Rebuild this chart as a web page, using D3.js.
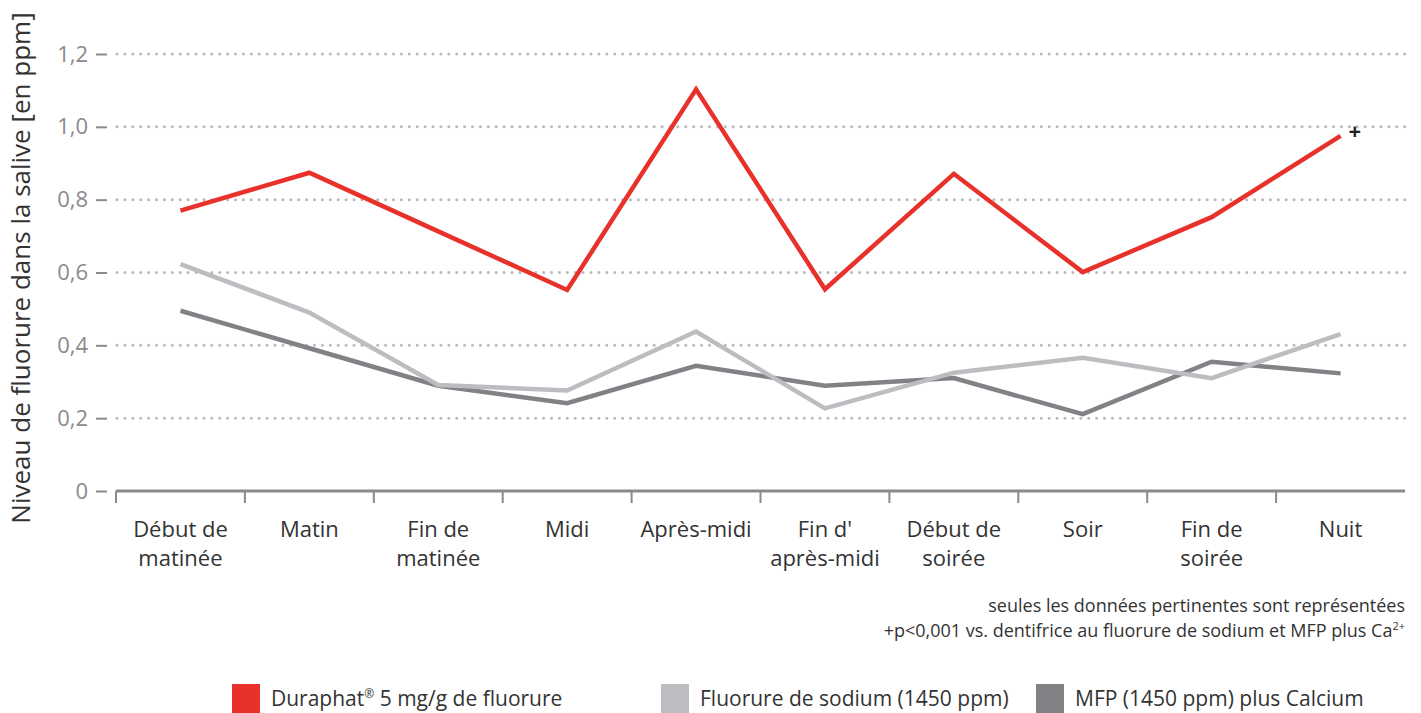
<!DOCTYPE html>
<html>
<head>
<meta charset="utf-8">
<script src="https://cdn.jsdelivr.net/npm/d3@7"></script>
<style>
  body { margin: 0; background: #fff; }
  svg { display: block; font-family: "Open Sans", sans-serif; }
</style>
</head>
<body>
<svg id="chart" width="1421" height="713"></svg>
<script>
var categories = [
  ["Début de", "matinée"], ["Matin"], ["Fin de", "matinée"], ["Midi"], ["Après-midi"],
  ["Fin d'", "après-midi"], ["Début de", "soirée"], ["Soir"], ["Fin de", "soirée"], ["Nuit"]
];
var duraphat = [0.770, 0.874, 0.713, 0.552, 1.103, 0.554, 0.871, 0.601, 0.752, 0.975];
var sodium   = [0.623, 0.490, 0.291, 0.276, 0.438, 0.227, 0.325, 0.366, 0.310, 0.431];
var mfp      = [0.495, 0.392, 0.289, 0.241, 0.344, 0.289, 0.310, 0.211, 0.355, 0.323];
var yTicks = [0, 0.2, 0.4, 0.6, 0.8, 1.0, 1.2];
var seriesNames = ["Duraphat", "Fluorure de sodium (1450 ppm)", "MFP (1450 ppm) plus Calcium"];
var colors = ["#e8312a", "#bdbdc1", "#818186"];

var svg = d3.select("#chart"),
    margin = {top: 54, left: 116, right: 16, bottom: 222},
    width = 1421 - margin.left - margin.right,
    height = 713 - margin.top - margin.bottom;

var keys = categories.map(function(c) { return c.join(" "); });

var x = d3.scaleBand().domain(keys).range([0, width]);
var y = d3.scaleLinear().domain([0, 1.2]).range([height, 0]);

var g = svg.append("g").attr("transform", "translate(" + margin.left + "," + margin.top + ")");

// dotted grid
g.selectAll("line.grid")
  .data(yTicks.filter(function(d) { return d > 0; }))
  .enter().append("line")
  .attr("class", "grid")
  .attr("x1", 1).attr("x2", width)
  .attr("y1", function(d) { return y(d); })
  .attr("y2", function(d) { return y(d); })
  .style("stroke", "#b9b9bc")
  .style("stroke-width", 3)
  .style("stroke-linecap", "round")
  .style("stroke-dasharray", "0,7.9");

// y axis
var yAxis = g.append("g")
  .attr("transform", "translate(-9,0)")
  .call(d3.axisLeft(y).tickValues(yTicks).tickSize(11).tickPadding(8)
    .tickFormat(function(d) { return d === 0 ? "0" : d3.format(".1f")(d).replace(".", ","); }));
yAxis.select(".domain").remove();
yAxis.selectAll(".tick line").style("stroke", "#8a8a8e").style("stroke-width", 2);
yAxis.selectAll(".tick text").style("fill", "#8a8a8e").style("font-size", "22px")
  .style("font-family", "'Open Sans', sans-serif");

// x axis
g.append("line")
  .attr("x1", 0).attr("x2", width)
  .attr("y1", height).attr("y2", height)
  .style("stroke", "#8a8a8e").style("stroke-width", 3);
g.selectAll("line.xtick")
  .data(keys).enter().append("line")
  .attr("class", "xtick")
  .attr("x1", function(d) { return x(d); })
  .attr("x2", function(d) { return x(d); })
  .attr("y1", height).attr("y2", height + 12)
  .style("stroke", "#8a8a8e").style("stroke-width", 2);

var labels = g.selectAll("text.xlab")
  .data(categories).enter().append("text")
  .attr("class", "xlab")
  .attr("text-anchor", "middle")
  .attr("x", function(d) { return x(d.join(" ")) + x.bandwidth() / 2; })
  .attr("y", height + 46)
  .style("font-size", "22px")
  .style("fill", "#333");
labels.selectAll("tspan")
  .data(function(d) { return d; }).enter().append("tspan")
  .attr("x", function() { return d3.select(this.parentNode).attr("x"); })
  .attr("dy", function(d, i) { return i === 0 ? 0 : 29; })
  .text(function(d) { return d; });

// lines
var line = d3.line()
  .x(function(d, i) { return x(keys[i]) + x.bandwidth() / 2; })
  .y(function(d) { return y(d); });

[duraphat, sodium, mfp].reverse().forEach(function(s, i) {
  g.append("path")
    .datum(s)
    .attr("d", line)
    .style("fill", "none")
    .style("stroke", colors[2 - i])
    .style("stroke-width", 4.5)
    .style("stroke-linejoin", "miter");
});

// significance marker
g.append("text")
  .attr("x", x(keys[9]) + x.bandwidth() / 2 + 8)
  .attr("y", y(duraphat[9]) + 3)
  .text("+")
  .style("font-size", "22px")
  .style("font-weight", "bold")
  .style("fill", "#222");

// y title
svg.append("text")
  .attr("transform", "translate(30," + 268 + ") rotate(-90)")
  .attr("text-anchor", "middle")
  .text("Niveau de fluorure dans la salive [en ppm]")
  .style("font-size", "26px")
  .style("fill", "#333");

// footnotes
var notes = svg.append("g").style("font-size", "18px").style("fill", "#333");
notes.append("text").attr("x", 1405).attr("y", 612).attr("text-anchor", "end")
  .text("seules les données pertinentes sont représentées");
var n2 = notes.append("text").attr("x", 1405).attr("y", 637).attr("text-anchor", "end");
n2.append("tspan").text("+p<0,001 vs. dentifrice au fluorure de sodium et MFP plus Ca");
n2.append("tspan").attr("dy", -7).style("font-size", "11px").text("2+");

// legend
var legendX = [232, 661, 1036];
var leg = svg.selectAll("g.leg").data(seriesNames).enter().append("g")
  .attr("class", "leg")
  .attr("transform", function(d, i) { return "translate(" + legendX[i] + ",684)"; });
leg.append("rect").attr("width", 28).attr("height", 29)
  .style("fill", function(d, i) { return colors[i]; });
var lt = leg.append("text").attr("x", 39).attr("y", 22)
  .style("font-size", "21px").style("fill", "#333");
lt.each(function(d, i) {
  var t = d3.select(this);
  if (i === 0) {
    t.append("tspan").text("Duraphat");
    t.append("tspan").attr("dy", -8).style("font-size", "12px").text("®");
    t.append("tspan").attr("dy", 8).text(" 5 mg/g de fluorure");
  } else {
    t.text(d);
  }
});
</script>
</body>
</html>
